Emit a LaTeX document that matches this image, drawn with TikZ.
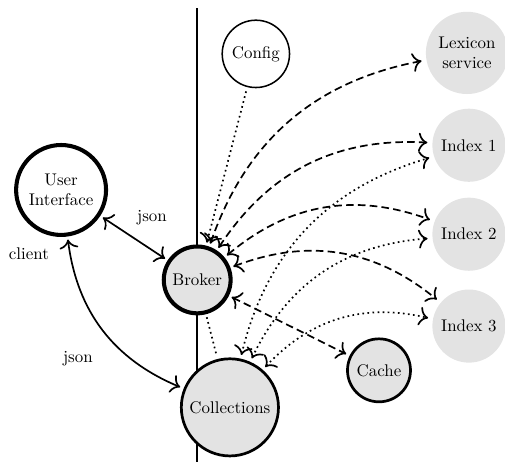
\documentclass[tikz,border=0pt]{standalone}
\usetikzlibrary{arrows,arrows.meta,calc}
\definecolor{SrvClr}{rgb}{0.89,0.89,0.89}

\begin{document}
\begin{tikzpicture}[
  >={To[scale=1.4]},
  srv/.style={circle,align=center,inner sep=0pt,outer sep=3pt,fill=SrvClr},
  heavy/.style={draw,line width=2.4pt},
  medium/.style={draw,line width=1.6pt},
  light/.style={draw,line width=0.9pt},
  link/.style={line width=1pt},
  dashlink/.style={link,dash pattern=on 4.5pt off 2.5pt},
  dotlink/.style={link,dash pattern=on 1pt off 2pt},
]
\useasboundingbox (0,0) rectangle (10.5,-9.59);

\coordinate (axtop) at (4.10,-0.17);
\coordinate (axbot) at (4.10,-9.7);
\draw[line width=1pt] (axtop) -- (axbot);

\node[srv,heavy,fill=white,minimum size=1.87cm] (ui) at (1.27,-3.95) {User\\Interface};
\node[srv,heavy,minimum size=1.39cm] (broker) at (4.10,-5.82) {Broker};
\node[srv,light,fill=white,minimum size=1.40cm] (config) at (5.32,-1.12) {Config};
\node[srv,minimum size=1.71cm] (lexicon) at (9.71,-1.10) {Lexicon\\service};
\node[srv,minimum size=1.52cm] (idx1) at (9.75,-3.02) {Index 1};
\node[srv,minimum size=1.52cm] (idx2) at (9.75,-4.87) {Index 2};
\node[srv,minimum size=1.52cm] (idx3) at (9.75,-6.78) {Index 3};
\node[srv,medium,minimum size=1.31cm] (cache) at (7.88,-7.70) {Cache};
\node[srv,medium,minimum size=2.02cm] (coll) at (4.78,-8.47) {Collections};

\node (json1) at (3.16,-4.53) {json};
\node (client) at (0.60,-5.27) {client};
\node (json2) at (1.62,-7.45) {json};

\draw[link,<->] (ui) -- (broker);
\draw[link,<->] (ui) to[bend right=30] (coll);
\draw[dotlink,->] (config) -- (broker);
\draw[dotlink] (broker) -- (coll);

\foreach \s in {lexicon,idx1,idx2,idx3}
  \draw[dashlink,<->] (broker) to[bend left=30] (\s);
\draw[dashlink,<->] (broker) -- (cache);

\foreach \s in {idx1,idx2,idx3}
  \draw[dotlink,<->] (coll) to[bend left=30] (\s);

\end{tikzpicture}
\end{document}
